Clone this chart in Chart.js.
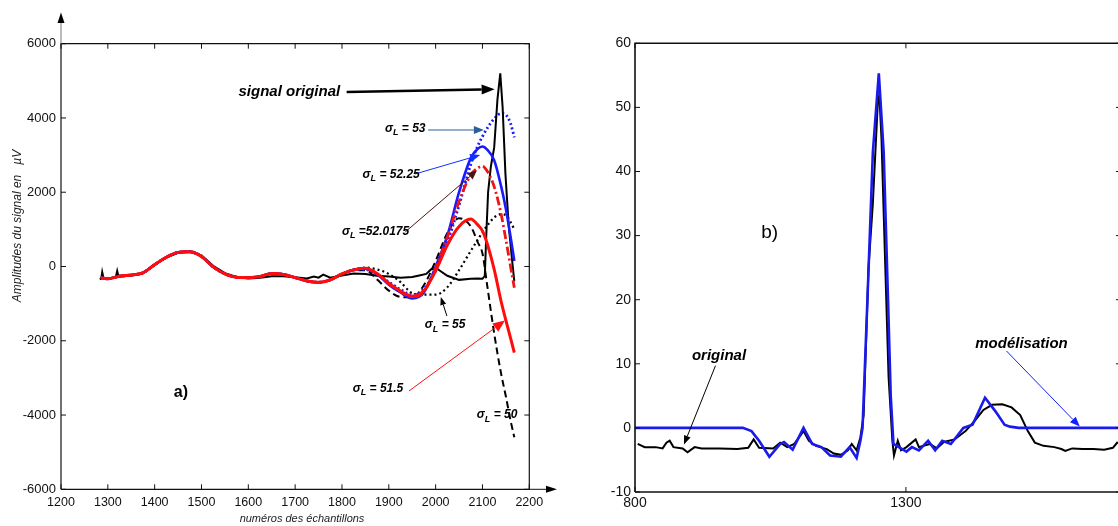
<!DOCTYPE html>
<html>
<head>
<meta charset="utf-8">
<script src="https://cdn.jsdelivr.net/npm/chart.js@4.4.1/dist/chart.umd.min.js"></script>
<style>
  html, body { margin: 0; padding: 0; background: #fff; overflow: hidden; width: 1118px; height: 526px; }
  canvas { position: absolute; top: 0; }
  #gA { left: 0; }
  #gB { left: 560px; }
</style>
</head>
<body>
<canvas id="gA" width="560" height="526"></canvas>
<canvas id="gB" width="600" height="526"></canvas>
<script>
// ===== Données panneau a) =====
const echant = [1285,1300,1325,1350,1375,1400,1425,1450,1475,1500,1525,1550,1575,1600,1625,1650,1675,1700,1725,1750,1775,1800,1825,1850,1875,1900,1925,1950,1975,2000,2025,2050,2075,2090,2100,2110,2125,2140,2150,2160,2168];
const sig515  = [-300,-330,-260,-230,-170,50,250,380,400,270,-10,-200,-290,-300,-270,-190,-215,-300,-390,-425,-360,-200,-90,-50,-190,-450,-660,-800,-650,-120,580,1080,1276,1120,960,620,-80,-950,-1450,-1930,-2320];
const sig520  = [-300,-330,-260,-230,-170,50,250,380,400,270,-10,-200,-290,-300,-270,-190,-215,-300,-390,-425,-360,-200,-90,-50,-200,-470,-680,-820,-680,-40,780,1750,2470,2650,2700,2570,2150,1400,720,0,-570];
const sig5225 = [-300,-330,-260,-230,-170,50,250,380,400,270,-10,-200,-290,-300,-270,-180,-210,-300,-390,-430,-360,-200,-90,-60,-210,-490,-700,-860,-700,0,830,2000,2920,3170,3230,3150,2860,2150,1550,800,150];
const sig53   = [-300,-330,-260,-230,-170,50,250,380,400,270,-10,-200,-290,-300,-270,-190,-215,-300,-390,-425,-360,-210,-100,-80,-220,-420,-620,-760,-600,-100,650,1650,2750,3250,3500,3720,3980,4120,4080,3850,3480];
const sig55   = [-300,-330,-260,-230,-170,50,250,380,400,270,-10,-200,-290,-300,-270,-190,-215,-300,-390,-425,-360,-200,-80,-30,-80,-200,-420,-720,-760,-760,-560,-100,420,720,920,1100,1320,1410,1380,1200,1000];
const sig50   = [-300,-330,-260,-230,-170,50,250,380,400,270,-10,-200,-290,-300,-270,-190,-215,-300,-390,-425,-360,-200,-100,-100,-350,-650,-820,-830,-500,150,900,1300,1080,650,350,-500,-1800,-2900,-3500,-4150,-4600];
const echOrig = [1283,1286,1288,1291,1300,1317,1320,1323,1350,1375,1400,1425,1450,1475,1500,1525,1550,1575,1600,1625,1650,1675,1700,1725,1740,1750,1760,1775,1800,1825,1850,1875,1900,1925,1950,1965,1980,1990,2000,2010,2025,2050,2075,2090,2100,2105,2108,2112,2118,2125,2132,2138,2143,2149,2156,2163,2168];
const sigOrig = [-350,-320,-150,-330,-320,-290,-120,-280,-240,-180,40,240,370,390,300,20,-180,-280,-320,-300,-260,-260,-290,-320,-270,-300,-220,-300,-240,-190,-200,-250,-270,-300,-280,-240,-200,-80,-30,-120,-250,-360,-330,-320,-330,-250,800,2000,2700,3200,4500,5200,4300,2500,1100,200,-400];
const ticksA_y = [-6000,-4000,-2000,0,2000,4000,6000];

// ===== Données panneau b) =====
const echB = [805,818,838,851,858,864,871,888,897,910,923,956,989,1009,1019,1029,1055,1068,1081,1094,1111,1121,1134,1154,1167,1180,1193,1200,1209,1216,1222,1231,1239,1248,1251,1255,1262,1268,1275,1278,1285,1291,1301,1318,1324,1344,1357,1370,1390,1410,1426,1443,1459,1478,1495,1511,1525,1538,1554,1574,1587,1594,1607,1626,1646,1666,1682,1691];
const origB = [-2.5,-3,-3,-3.2,-2.3,-2,-3,-3.2,-3.8,-3,-3.2,-3.2,-3.3,-3.1,-1.8,-3.1,-3.2,-2.3,-3,-2.5,-0.5,-2,-2.8,-3.3,-4,-4.2,-3.5,-2.5,-3.5,-1.5,2,25,35,50.5,52,45,25,8,-2,-4.3,-2,-3.5,-3,-1.8,-3,-2.5,-3.2,-2.2,-1.8,-0.5,1,2.8,3.6,3.7,3.2,2,-0.5,-2.3,-2.8,-3,-3.3,-3.6,-3.2,-3.3,-3.3,-3.4,-3.1,-2.2];
const echModel = [800,999,1015,1029,1048,1068,1075,1091,1111,1127,1144,1160,1180,1196,1209,1216,1220,1229,1239,1250,1259,1267,1272,1277,1301,1311,1324,1341,1354,1367,1383,1406,1423,1446,1466,1482,1492,1508,1700];
const modelB = [0,0,-0.5,-2,-4.5,-2.5,-2.2,-3.4,0,-2.5,-3,-4.3,-4.5,-3,-4.7,-2,0,20,43,55.3,43,20,5,-2.5,-3.7,-3,-3.5,-2,-3.5,-2,-2.5,0,0.5,4.7,2.5,0.5,0.2,0,0];
const ticksB_x = [800, 1300];

const pts = (xs, ys) => xs.map((x, i) => ({ x: x, y: ys[i] }));
const POLICE = "'Liberation Sans', Arial, sans-serif";

// ===== Annotations (en coordonnées des données) =====
const notesA = [
  { txt: "signal original", x: 1579, y: 4700, size: 15 },
  { sig: " = 53", x: 1892, y: 3703 },
  { sig: " = 52.25", x: 1844, y: 2478 },
  { sig: " =52.0175", x: 1800, y: 929 },
  { sig: " = 55", x: 1977, y: -1576 },
  { sig: " = 51.5", x: 1823, y: -3299 },
  { sig: " = 50", x: 2088, y: -4000 },
  { txt: "a)", x: 1441, y: -3407, size: 16, poids: "bold " },
];
const flechesA = [
  { de: [1810, 4700], a: [2126, 4770], cor: "#000", lw: 2.5, L: 13, W: 5 },
  { de: [1984, 3676], a: [2103, 3676], cor: "#2a5f98", lw: 1, L: 10, W: 4 },
  { de: [1956, 2491], a: [2095, 3003], cor: "#1030ff", lw: 1, L: 10, W: 4 },
  { de: [1935, 929], a: [2088, 2585], cor: "#4a1515", lw: 1, L: 9, W: 4 },
  { de: [2024, -1333], a: [2011, -821], cor: "#000", lw: 1, L: 8, W: 3 },
  { de: [1943, -3353], a: [2148, -1454], cor: "#ff1010", lw: 1, L: 12, W: 5 },
];
const notesB = [
  { txt: "b)", x: 1033, y: 30.4, size: 19, poids: "" },
  { txt: "original", x: 905, y: 11.3, size: 15 },
  { txt: "modélisation", x: 1428, y: 13.1, size: 15 },
];
const flechesB = [
  { de: [948.5, 9.7], a: [890.4, -2.6], cor: "#000", lw: 1, L: 9, W: 3.5 },
  { de: [1485.6, 12.0], a: [1621, 0.2], cor: "#1020ff", lw: 1, L: 10, W: 4 },
];

// ===== Dessin =====
function fleche(ctx, x1, y1, x2, y2, f) {
  const ang = Math.atan2(y2 - y1, x2 - x1);
  const bx = x2 - f.L * Math.cos(ang), by = y2 - f.L * Math.sin(ang);
  ctx.strokeStyle = f.cor; ctx.fillStyle = f.cor; ctx.lineWidth = f.lw;
  ctx.beginPath(); ctx.moveTo(x1, y1); ctx.lineTo(bx, by); ctx.stroke();
  ctx.beginPath();
  ctx.moveTo(x2, y2);
  ctx.lineTo(bx + f.W * Math.sin(ang), by - f.W * Math.cos(ang));
  ctx.lineTo(bx - f.W * Math.sin(ang), by + f.W * Math.cos(ang));
  ctx.closePath(); ctx.fill();
}

function texte(ctx, n, px, py) {
  ctx.fillStyle = "#000"; ctx.textBaseline = "middle"; ctx.textAlign = "left";
  if (n.sig) {
    ctx.font = `italic bold 12px ${POLICE}`;
    ctx.fillText("σ", px, py);
    let w = ctx.measureText("σ").width;
    ctx.font = `italic bold 9px ${POLICE}`;
    ctx.fillText("L", px + w, py + 4);
    w += ctx.measureText("L").width;
    ctx.font = `italic bold 12px ${POLICE}`;
    ctx.fillText(n.sig, px + w, py);
  } else {
    ctx.font = (n.poids !== undefined ? n.poids : "italic bold ") + n.size + "px " + POLICE;
    ctx.fillText(n.txt, px, py);
  }
}

function cadre(kind, notes, fleches) {
  return {
    id: "cadre" + kind,
    afterDatasetsDraw(chart) {
      const ctx = chart.ctx, a = chart.chartArea, sx = chart.scales.x, sy = chart.scales.y;
      ctx.save();
      ctx.strokeStyle = "#111"; ctx.lineWidth = kind === "A" ? 1.2 : 1.6;
      ctx.beginPath();
      ctx.moveTo(a.left, a.bottom); ctx.lineTo(a.left, a.top); ctx.lineTo(a.right, a.top);
      ctx.lineTo(a.right, a.bottom); ctx.lineTo(a.left, a.bottom);
      ctx.stroke();
      // graduations vers l'intérieur
      ctx.lineWidth = 1; ctx.beginPath();
      sx.ticks.forEach(t => {
        const p = sx.getPixelForValue(t.value);
        ctx.moveTo(p, a.bottom); ctx.lineTo(p, a.bottom - 5);
        ctx.moveTo(p, a.top); ctx.lineTo(p, a.top + 5);
      });
      sy.ticks.forEach(t => {
        const p = sy.getPixelForValue(t.value);
        ctx.moveTo(a.left, p); ctx.lineTo(a.left + 5, p);
        ctx.moveTo(a.right, p); ctx.lineTo(a.right - 5, p);
      });
      ctx.stroke();
      if (kind === "A") {
        // axes fléchés
        ctx.strokeStyle = "#777"; ctx.lineWidth = 1;
        ctx.beginPath(); ctx.moveTo(a.left, a.top); ctx.lineTo(a.left, 20); ctx.stroke();
        ctx.strokeStyle = "#111";
        ctx.beginPath(); ctx.moveTo(a.right, a.bottom); ctx.lineTo(548, a.bottom); ctx.stroke();
        ctx.fillStyle = "#000";
        ctx.beginPath(); ctx.moveTo(a.left, 12.5); ctx.lineTo(a.left - 3.5, 23); ctx.lineTo(a.left + 3.5, 23); ctx.closePath(); ctx.fill();
        ctx.beginPath(); ctx.moveTo(557, a.bottom); ctx.lineTo(546, a.bottom - 3.5); ctx.lineTo(546, a.bottom + 3.5); ctx.closePath(); ctx.fill();
        // titres des axes
        ctx.fillStyle = "#222"; ctx.textAlign = "center"; ctx.textBaseline = "middle";
        ctx.font = `italic 11px ${POLICE}`;
        ctx.fillText("numéros des échantillons", 302, 519);
        ctx.save(); ctx.translate(18, 226); ctx.rotate(-Math.PI / 2);
        ctx.font = `italic 12px ${POLICE}`;
        ctx.fillText("Amplitudes du signal en   µV", 0, 0);
        ctx.restore();
      }
      fleches.forEach(f => fleche(ctx,
        sx.getPixelForValue(f.de[0]), sy.getPixelForValue(f.de[1]),
        sx.getPixelForValue(f.a[0]), sy.getPixelForValue(f.a[1]), f));
      notes.forEach(n => texte(ctx, n, sx.getPixelForValue(n.x), sy.getPixelForValue(n.y)));
      ctx.restore();
    }
  };
}

function serie(data, cor, lw, dash, lisse) {
  return { data: data, borderColor: cor, borderWidth: lw, borderDash: dash || [],
    pointRadius: 0, fill: false, cubicInterpolationMode: lisse ? "monotone" : "default", tension: 0 };
}

const axeSansGrille = { grid: { display: false, drawTicks: false }, border: { display: false } };

// ===== Graphique a) =====
new Chart(document.getElementById("gA"), {
  type: "line",
  data: { datasets: [
    serie(pts(echant, sig515), "#ff0d0d", 3, null, true),
    serie(pts(echant, sig520), "#f01414", 2.8, [9, 3, 2, 3], true),
    serie(pts(echant, sig5225), "#1a1aff", 2.6, null, true),
    serie(pts(echOrig, sigOrig), "#000", 2, null, false),
    serie(pts(echant, sig53), "#1a1aff", 2.8, [2, 2.5], true),
    serie(pts(echant, sig50), "#000", 2, [7, 4], true),
    serie(pts(echant, sig55), "#000", 2.2, [2, 3], true),
  ]},
  options: {
    responsive: false, animation: false, devicePixelRatio: 1,
    layout: { padding: { top: 43.7, right: 30.7, left: 0, bottom: 0 } },
    plugins: { legend: { display: false }, tooltip: { enabled: false } },
    scales: {
      x: { ...axeSansGrille, type: "linear", min: 1200, max: 2200,
        afterFit: s => { s.height = 36.7; },
        ticks: { stepSize: 100, padding: 6, color: "#111", font: { family: POLICE, size: 12.5 }, callback: v => String(v), maxRotation: 0 } },
      y: { ...axeSansGrille, min: -6000, max: 6000,
        afterFit: s => { s.width = 61; },
        afterBuildTicks: s => { s.ticks = ticksA_y.map(v => ({ value: v })); },
        ticks: { padding: 5, color: "#111", font: { family: POLICE, size: 13 }, callback: v => String(v) } },
    },
  },
  plugins: [cadre("A", notesA, flechesA)],
});

// ===== Graphique b) =====
new Chart(document.getElementById("gB"), {
  type: "line",
  data: { datasets: [
    serie(pts(echModel, modelB), "#1a1aee", 2.6, null, false),
    serie(pts(echB, origB), "#000", 2, null, false),
  ]},
  options: {
    responsive: false, animation: false, devicePixelRatio: 1,
    layout: { padding: { top: 43.3, right: 39, left: 0, bottom: 0 } },
    plugins: { legend: { display: false }, tooltip: { enabled: false } },
    scales: {
      x: { ...axeSansGrille, type: "linear", min: 800, max: 1697,
        afterFit: s => { s.height = 34; },
        afterBuildTicks: s => { s.ticks = ticksB_x.map(v => ({ value: v })); },
        ticks: { padding: 3, color: "#111", font: { family: POLICE, size: 14 }, callback: v => String(v), maxRotation: 0 } },
      y: { ...axeSansGrille, min: -10, max: 60,
        afterFit: s => { s.width = 75; },
        ticks: { stepSize: 10, padding: 4, color: "#111", font: { family: POLICE, size: 14 }, callback: v => String(v) } },
    },
  },
  plugins: [cadre("B", notesB, flechesB)],
});
</script>
</body>
</html>
